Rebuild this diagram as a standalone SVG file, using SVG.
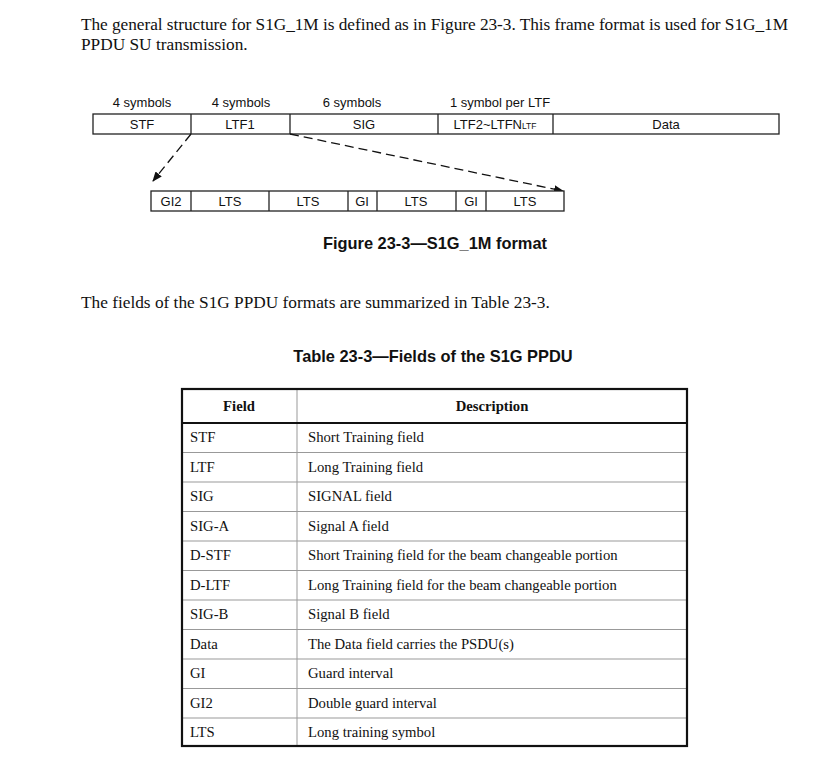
<svg xmlns="http://www.w3.org/2000/svg" width="832" height="768" viewBox="0 0 832 768">
<style>
.body{font-family:"Liberation Serif","Times New Roman",serif;font-size:17.3px;fill:#111}
.lbl{font-family:"Liberation Sans",Arial,sans-serif;font-size:13px;fill:#111;text-anchor:middle}
.cap{font-family:"Liberation Sans",Arial,sans-serif;font-size:16.4px;font-weight:bold;fill:#111;text-anchor:middle}
.cell{font-family:"Liberation Serif","Times New Roman",serif;font-size:14.7px;fill:#111}
.hd{font-family:"Liberation Serif","Times New Roman",serif;font-size:14.7px;font-weight:bold;fill:#111;text-anchor:middle}
.box{fill:#fff;stroke:#222;stroke-width:1.3}
.div{stroke:#222;stroke-width:1.3}
.dash{stroke:#111;stroke-width:1.3;stroke-dasharray:9,5;fill:none}
.grid{stroke:#999;stroke-width:1}
</style>
<defs>
<marker id="ah" markerWidth="10" markerHeight="8" refX="9" refY="4" orient="auto" markerUnits="userSpaceOnUse">
<path d="M0,0 L10,4 L0,8 Z" fill="#111"/>
</marker>
</defs>
<rect width="832" height="768" fill="#fff"/>

<text class="body" x="81" y="30" textLength="707" lengthAdjust="spacing">The general structure for S1G_1M is defined as in Figure 23-3. This frame format is used for S1G_1M</text>
<text class="body" x="81" y="50">PPDU SU transmission.</text>

<g id="labels">
<text class="lbl" x="142" y="107">4 symbols</text>
<text class="lbl" x="241" y="107">4 symbols</text>
<text class="lbl" x="352" y="107">6 symbols</text>
<text class="lbl" x="500" y="107">1 symbol per LTF</text>
</g>

<g id="frame">
<rect class="box" x="93" y="114" width="686" height="20"/>
<line class="div" x1="191" y1="114" x2="191" y2="134"/>
<line class="div" x1="290" y1="114" x2="290" y2="134"/>
<line class="div" x1="438" y1="114" x2="438" y2="134"/>
<line class="div" x1="553" y1="114" x2="553" y2="134"/>
<text class="lbl" x="142" y="129">STF</text>
<text class="lbl" x="240" y="129">LTF1</text>
<text class="lbl" x="364" y="129">SIG</text>
<text class="lbl" x="495" y="129">LTF2~LTFN<tspan font-size="8.5">LTF</tspan></text>
<text class="lbl" x="666" y="129">Data</text>
</g>

<g id="connectors">
<line class="dash" x1="191" y1="134" x2="153" y2="181" marker-end="url(#ah)"/>
<line class="dash" x1="290" y1="134" x2="563" y2="191" marker-end="url(#ah)"/>
</g>

<g id="ltf1-detail">
<rect class="box" x="151" y="191" width="413" height="20"/>
<line class="div" x1="191" y1="191" x2="191" y2="211"/>
<line class="div" x1="269" y1="191" x2="269" y2="211"/>
<line class="div" x1="348" y1="191" x2="348" y2="211"/>
<line class="div" x1="377" y1="191" x2="377" y2="211"/>
<line class="div" x1="456" y1="191" x2="456" y2="211"/>
<line class="div" x1="486" y1="191" x2="486" y2="211"/>
<text class="lbl" x="171" y="206">GI2</text>
<text class="lbl" x="230" y="206">LTS</text>
<text class="lbl" x="308" y="206">LTS</text>
<text class="lbl" x="362" y="206">GI</text>
<text class="lbl" x="416" y="206">LTS</text>
<text class="lbl" x="471" y="206">GI</text>
<text class="lbl" x="525" y="206">LTS</text>
</g>

<text class="cap" x="435" y="249">Figure 23-3—S1G_1M format</text>

<text class="body" x="81" y="308">The fields of the S1G PPDU formats are summarized in Table 23-3.</text>

<text class="cap" x="433" y="362">Table 23-3—Fields of the S1G PPDU</text>

<g id="table">
<line class="grid" x1="297" y1="389" x2="297" y2="746"/>
<line class="grid" x1="182" y1="452.5" x2="687" y2="452.5"/>
<line class="grid" x1="182" y1="482" x2="687" y2="482"/>
<line class="grid" x1="182" y1="511.5" x2="687" y2="511.5"/>
<line class="grid" x1="182" y1="541" x2="687" y2="541"/>
<line class="grid" x1="182" y1="570.5" x2="687" y2="570.5"/>
<line class="grid" x1="182" y1="600" x2="687" y2="600"/>
<line class="grid" x1="182" y1="629.5" x2="687" y2="629.5"/>
<line class="grid" x1="182" y1="659" x2="687" y2="659"/>
<line class="grid" x1="182" y1="688.5" x2="687" y2="688.5"/>
<line class="grid" x1="182" y1="718" x2="687" y2="718"/>
<line x1="182" y1="423" x2="687" y2="423" stroke="#111" stroke-width="2"/>
<rect x="182" y="389" width="505" height="357" fill="none" stroke="#111" stroke-width="2.2"/>
<text class="hd" x="239" y="411">Field</text>
<text class="hd" x="492" y="411">Description</text>
<g class="cell">
<text x="190" y="442">STF</text><text x="308" y="442">Short Training field</text>
<text x="190" y="472">LTF</text><text x="308" y="472">Long Training field</text>
<text x="190" y="501">SIG</text><text x="308" y="501">SIGNAL field</text>
<text x="190" y="531">SIG-A</text><text x="308" y="531">Signal A field</text>
<text x="190" y="560">D-STF</text><text x="308" y="560">Short Training field for the beam changeable portion</text>
<text x="190" y="590">D-LTF</text><text x="308" y="590">Long Training field for the beam changeable portion</text>
<text x="190" y="619">SIG-B</text><text x="308" y="619">Signal B field</text>
<text x="190" y="649">Data</text><text x="308" y="649">The Data field carries the PSDU(s)</text>
<text x="190" y="678">GI</text><text x="308" y="678">Guard interval</text>
<text x="190" y="708">GI2</text><text x="308" y="708">Double guard interval</text>
<text x="190" y="737">LTS</text><text x="308" y="737">Long training symbol</text>
</g>
</g>
</svg>
